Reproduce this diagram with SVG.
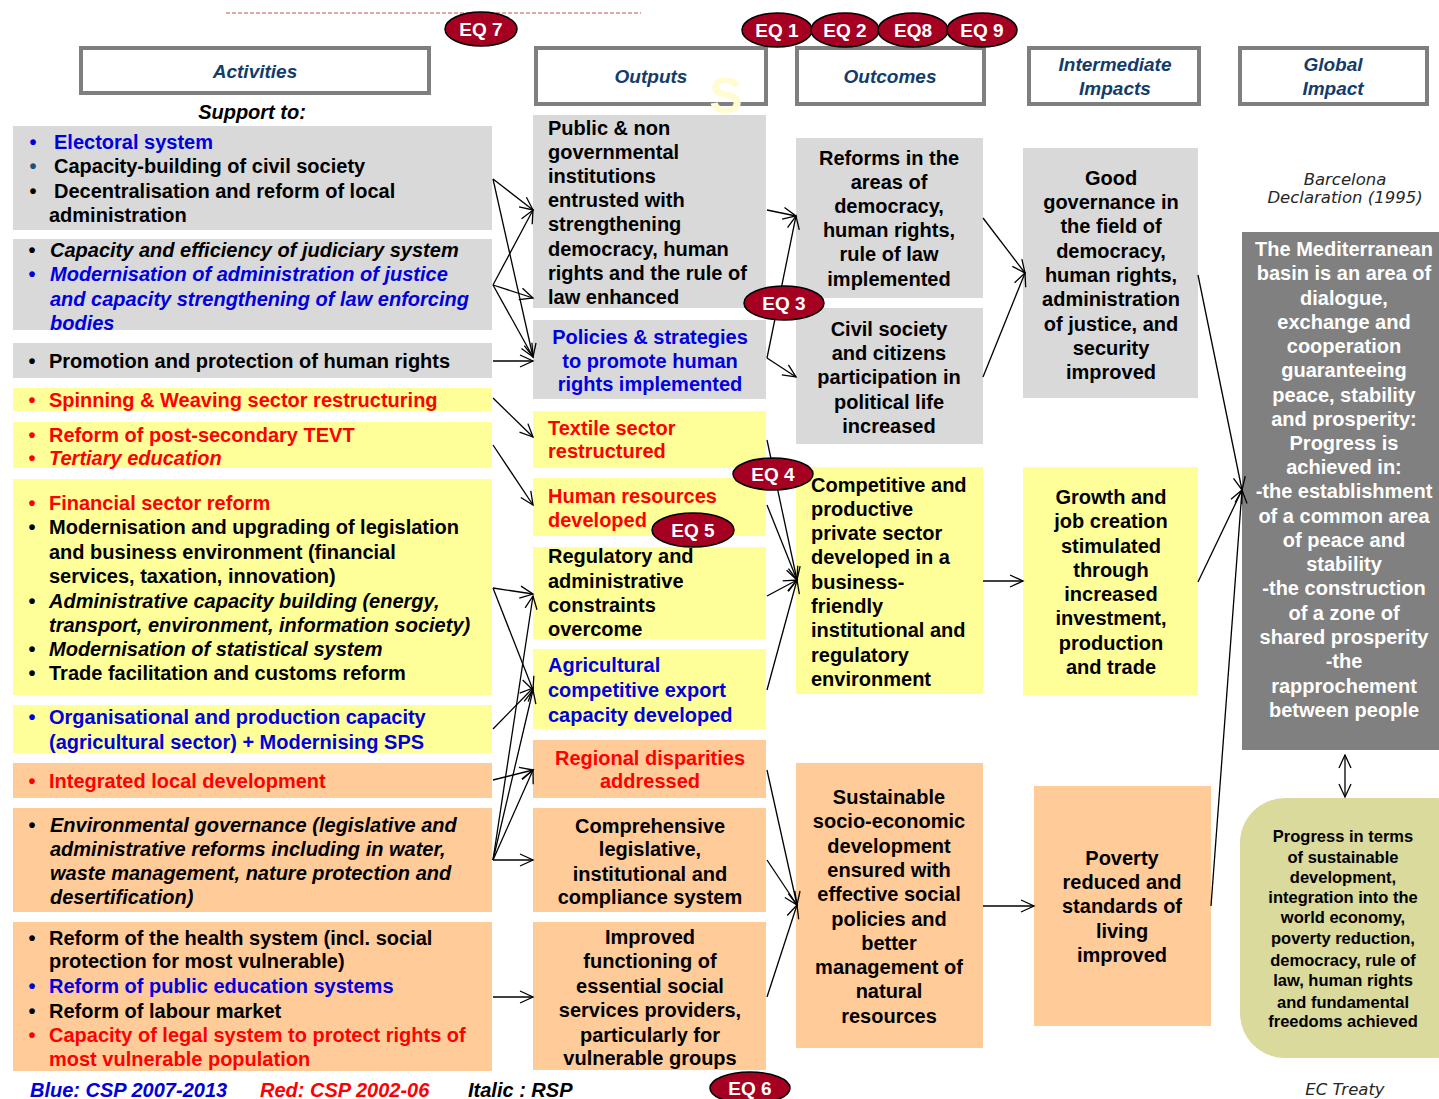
<svg xmlns="http://www.w3.org/2000/svg" width="1439" height="1099" viewBox="0 0 1439 1099">
  <defs>
    <style>
      .t { font-family: "Liberation Sans", Arial, sans-serif; font-weight: bold; font-size: 20px; fill: #000; }
      .c { text-anchor: middle; }
      .it { font-style: italic; }
      .blue { fill: #0000dd; }
      .red { fill: #ff0000; }
      .navy { fill: #1f4e79; }
      .hdr { font-family: "Liberation Sans", Arial, sans-serif; font-weight: bold; font-style: italic; font-size: 19px; fill: #133c6b; text-anchor: middle; }
      .hbox { fill: #fff; stroke: #7f7f7f; stroke-width: 4; }
      .gray { fill: #d9d9d9; }
      .yel { fill: #ffff99; }
      .pch { fill: #ffcc99; }
      .wt { fill: #fff; }
      .note { font-family: "DejaVu Sans", Verdana, sans-serif; font-style: italic; font-size: 16.5px; fill: #262626; text-anchor: middle; }
      .olive { font-family: "Liberation Sans", Arial, sans-serif; font-weight: bold; font-size: 16.5px; fill: #000; text-anchor: middle; }
      .eq ellipse { fill: #a50021; stroke: #000; stroke-width: 1.5; }
      .eq text { font-family: "Liberation Sans", Arial, sans-serif; font-weight: bold; font-size: 19px; fill: #fff; text-anchor: middle; }
      .cn line { stroke: #000; stroke-width: 1.3; marker-end: url(#ah); }
    </style>
    <marker id="ah" markerWidth="16" markerHeight="16" refX="14" refY="7" orient="auto" markerUnits="userSpaceOnUse">
      <path d="M1,1 L14,7 L1,13" fill="none" stroke="#000" stroke-width="1.3"/>
    </marker>
    <marker id="ahs" markerWidth="16" markerHeight="16" refX="1" refY="7" orient="auto" markerUnits="userSpaceOnUse">
      <path d="M14,1 L1,7 L14,13" fill="none" stroke="#000" stroke-width="1.3"/>
    </marker>
  </defs>

  <rect width="1439" height="1099" fill="#fff"/>

  <!-- dashed line over the top -->
  <line x1="226" y1="13" x2="641" y2="13" stroke="#c0504d" stroke-width="1.2" stroke-dasharray="4 2"/>

  <!-- column headers -->
  <g id="hdr-activities">
    <rect class="hbox" x="81" y="48" width="348" height="45"/>
    <text class="hdr" x="255" y="78">Activities</text>
  </g>
  <g id="hdr-outputs">
    <rect class="hbox" x="536" y="48" width="230" height="56"/>
    <text x="726" y="113" font-family="Liberation Sans, Arial, sans-serif" font-weight="bold" font-size="50" fill="#fffcd2" text-anchor="middle">S</text>
    <text class="hdr" x="651" y="83">Outputs</text>
  </g>
  <g id="hdr-outcomes">
    <rect class="hbox" x="797" y="48" width="187" height="56"/>
    <text class="hdr" x="890" y="83">Outcomes</text>
  </g>
  <g id="hdr-intermediate">
    <rect class="hbox" x="1029" y="48" width="170" height="56"/>
    <text class="hdr" x="1115" y="71">Intermediate</text>
    <text class="hdr" x="1115" y="95">Impacts</text>
  </g>
  <g id="hdr-global">
    <rect class="hbox" x="1240" y="48" width="187" height="56"/>
    <text class="hdr" x="1333" y="71">Global</text>
    <text class="hdr" x="1333" y="95">Impact</text>
  </g>

  <text class="t it c" x="252" y="119" font-size="19">Support to:</text>

  <!-- activities -->
  <g id="act-1">
    <rect class="gray" x="13" y="126" width="479" height="104"/>
    <text class="t blue c" x="33" y="149">•</text><text class="t blue" x="54" y="149">Electoral system</text>
    <text class="t navy c" x="33" y="173">•</text><text class="t" x="54" y="173">Capacity-building  of civil society</text>
    <text class="t c" x="33" y="198">•</text><text class="t" x="54" y="198">Decentralisation  and reform of local</text>
    <text class="t" x="49" y="222">administration</text>
  </g>
  <g id="act-2">
    <rect class="gray" x="13" y="239" width="479" height="91"/>
    <text class="t c" x="32" y="257">•</text><text class="t it" x="50" y="257">Capacity and efficiency  of judiciary system</text>
    <text class="t blue c" x="32" y="281">•</text><text class="t it blue" x="50" y="281">Modernisation  of administration  of justice</text>
    <text class="t it blue" x="50" y="306">and capacity  strengthening  of law enforcing</text>
    <text class="t it blue" x="50" y="330">bodies</text>
  </g>
  <g id="act-3">
    <rect class="gray" x="13" y="343" width="479" height="35"/>
    <text class="t c" x="32" y="368">•</text><text class="t" x="49" y="368">Promotion and protection of human rights</text>
  </g>
  <g id="act-4">
    <rect class="yel" x="13" y="388" width="479" height="23"/>
    <text class="t red c" x="32" y="407">•</text><text class="t red" x="49" y="407">Spinning &amp; Weaving sector  restructuring</text>
  </g>
  <g id="act-5">
    <rect class="yel" x="13" y="422" width="479" height="46"/>
    <text class="t red c" x="32" y="442">•</text><text class="t red" x="49" y="442">Reform of post-secondary  TEVT</text>
    <text class="t red c" x="32" y="465">•</text><text class="t it red" x="49" y="465">Tertiary education</text>
  </g>
  <g id="act-6">
    <rect class="yel" x="13" y="479" width="479" height="216"/>
    <text class="t red c" x="32" y="510">•</text><text class="t red" x="49" y="510">Financial sector  reform</text>
    <text class="t c" x="32" y="534">•</text><text class="t" x="49" y="534">Modernisation and upgrading of legislation</text>
    <text class="t" x="49" y="559">and business environment  (financial</text>
    <text class="t" x="49" y="583">services, taxation,  innovation)</text>
    <text class="t c" x="32" y="608">•</text><text class="t it" x="49" y="608">Administrative capacity  building (energy,</text>
    <text class="t it" x="49" y="632">transport,  environment,  information  society)</text>
    <text class="t c" x="32" y="656">•</text><text class="t it" x="49" y="656">Modernisation  of statistical  system</text>
    <text class="t c" x="32" y="680">•</text><text class="t" x="49" y="680">Trade facilitation  and customs  reform</text>
  </g>
  <g id="act-7">
    <rect class="yel" x="13" y="705" width="479" height="48"/>
    <text class="t blue c" x="32" y="724">•</text><text class="t blue" x="49" y="724">Organisational  and production  capacity</text>
    <text class="t blue" x="49" y="749">(agricultural  sector)  + Modernising  SPS</text>
  </g>
  <g id="act-8">
    <rect class="pch" x="13" y="763" width="479" height="35"/>
    <text class="t red c" x="32" y="788">•</text><text class="t red" x="49" y="788">Integrated  local development</text>
  </g>
  <g id="act-9">
    <rect class="pch" x="13" y="808" width="479" height="104"/>
    <text class="t c" x="32" y="832">•</text><text class="t it" x="50" y="832">Environmental governance  (legislative and</text>
    <text class="t it" x="50" y="856">administrative reforms  including in water,</text>
    <text class="t it" x="50" y="880">waste management,  nature protection  and</text>
    <text class="t it" x="50" y="904">desertification)</text>
  </g>
  <g id="act-10">
    <rect class="pch" x="13" y="922" width="479" height="149"/>
    <text class="t c" x="32" y="945">•</text><text class="t" x="49" y="945">Reform of the health  system  (incl. social</text>
    <text class="t" x="49" y="968">protection  for most vulnerable)</text>
    <text class="t blue c" x="32" y="993">•</text><text class="t blue" x="49" y="993">Reform of public education  systems</text>
    <text class="t c" x="32" y="1018">•</text><text class="t" x="49" y="1018">Reform of labour market</text>
    <text class="t red c" x="32" y="1042">•</text><text class="t red" x="49" y="1042">Capacity of legal system  to protect  rights of</text>
    <text class="t red" x="49" y="1066">most vulnerable population</text>
  </g>

  <!-- outputs -->
  <g id="out-1">
    <rect class="gray" x="533" y="115" width="233" height="193"/>
    <text class="t" x="548" y="135">Public &amp; non</text>
    <text class="t" x="548" y="159">governmental</text>
    <text class="t" x="548" y="183">institutions</text>
    <text class="t" x="548" y="207">entrusted  with</text>
    <text class="t" x="548" y="231">strengthening</text>
    <text class="t" x="548" y="256">democracy, human</text>
    <text class="t" x="548" y="280">rights and the rule of</text>
    <text class="t" x="548" y="304">law enhanced</text>
  </g>
  <g id="out-2">
    <rect class="gray" x="533" y="320" width="233" height="79"/>
    <text class="t c blue" x="650" y="344">Policies &amp; strategies</text>
    <text class="t c blue" x="650" y="368">to promote  human</text>
    <text class="t c blue" x="650" y="391">rights implemented</text>
  </g>
  <g id="out-3">
    <rect class="yel" x="533" y="411" width="233" height="57"/>
    <text class="t red" x="548" y="435">Textile sector</text>
    <text class="t red" x="548" y="458">restructured</text>
  </g>
  <g id="out-4">
    <rect class="yel" x="533" y="478" width="233" height="58"/>
    <text class="t red" x="548" y="503">Human resources</text>
    <text class="t red" x="548" y="527">developed</text>
  </g>
  <g id="out-5">
    <rect class="yel" x="533" y="547" width="233" height="92"/>
    <text class="t" x="548" y="563">Regulatory and</text>
    <text class="t" x="548" y="588">administrative</text>
    <text class="t" x="548" y="612">constraints</text>
    <text class="t" x="548" y="636">overcome</text>
  </g>
  <g id="out-6">
    <rect class="yel" x="533" y="649" width="233" height="80"/>
    <text class="t blue" x="548" y="672">Agricultural</text>
    <text class="t blue" x="548" y="697">competitive export</text>
    <text class="t blue" x="548" y="722">capacity  developed</text>
  </g>
  <g id="out-7">
    <rect class="pch" x="533" y="740" width="233" height="58"/>
    <text class="t c red" x="650" y="765">Regional  disparities</text>
    <text class="t c red" x="650" y="788">addressed</text>
  </g>
  <g id="out-8">
    <rect class="pch" x="533" y="808" width="233" height="104"/>
    <text class="t c" x="650" y="833">Comprehensive</text>
    <text class="t c" x="650" y="856">legislative,</text>
    <text class="t c" x="650" y="881">institutional and</text>
    <text class="t c" x="650" y="904">compliance system</text>
  </g>
  <g id="out-9">
    <rect class="pch" x="533" y="922" width="233" height="148"/>
    <text class="t c" x="650" y="944">Improved</text>
    <text class="t c" x="650" y="968">functioning of</text>
    <text class="t c" x="650" y="993">essential social</text>
    <text class="t c" x="650" y="1017">services providers,</text>
    <text class="t c" x="650" y="1042">particularly for</text>
    <text class="t c" x="650" y="1065">vulnerable groups</text>
  </g>

  <!-- outcomes -->
  <g id="oc-1">
    <rect class="gray" x="796" y="138" width="187" height="160"/>
    <text class="t c" x="889" y="165">Reforms  in the</text>
    <text class="t c" x="889" y="189">areas of</text>
    <text class="t c" x="889" y="213">democracy,</text>
    <text class="t c" x="889" y="237">human rights,</text>
    <text class="t c" x="889" y="261">rule of law</text>
    <text class="t c" x="889" y="286">implemented</text>
  </g>
  <g id="oc-2">
    <rect class="gray" x="796" y="308" width="187" height="136"/>
    <text class="t c" x="889" y="336">Civil society</text>
    <text class="t c" x="889" y="360">and citizens</text>
    <text class="t c" x="889" y="384">participation in</text>
    <text class="t c" x="889" y="409">political life</text>
    <text class="t c" x="889" y="433">increased</text>
  </g>
  <g id="oc-3">
    <rect class="yel" x="796" y="467" width="187" height="227"/>
    <text class="t" x="811" y="492">Competitive and</text>
    <text class="t" x="811" y="516">productive</text>
    <text class="t" x="811" y="540">private sector</text>
    <text class="t" x="811" y="564">developed in a</text>
    <text class="t" x="811" y="589">business-</text>
    <text class="t" x="811" y="613">friendly</text>
    <text class="t" x="811" y="637">institutional and</text>
    <text class="t" x="811" y="662">regulatory</text>
    <text class="t" x="811" y="686">environment</text>
  </g>
  <g id="oc-4">
    <rect class="pch" x="796" y="763" width="187" height="285"/>
    <text class="t c" x="889" y="804">Sustainable</text>
    <text class="t c" x="889" y="828">socio-economic</text>
    <text class="t c" x="889" y="853">development</text>
    <text class="t c" x="889" y="877">ensured with</text>
    <text class="t c" x="889" y="901">effective social</text>
    <text class="t c" x="889" y="926">policies and</text>
    <text class="t c" x="889" y="950">better</text>
    <text class="t c" x="889" y="974">management of</text>
    <text class="t c" x="889" y="998">natural</text>
    <text class="t c" x="889" y="1023">resources</text>
  </g>

  <!-- intermediate impacts -->
  <g id="ii-1">
    <rect class="gray" x="1023" y="148" width="175" height="250"/>
    <text class="t c" x="1111" y="185">Good</text>
    <text class="t c" x="1111" y="209">governance in</text>
    <text class="t c" x="1111" y="233">the field of</text>
    <text class="t c" x="1111" y="258">democracy,</text>
    <text class="t c" x="1111" y="282">human rights,</text>
    <text class="t c" x="1111" y="306">administration</text>
    <text class="t c" x="1111" y="331">of justice, and</text>
    <text class="t c" x="1111" y="355">security</text>
    <text class="t c" x="1111" y="379">improved</text>
  </g>
  <g id="ii-2">
    <rect class="yel" x="1023" y="467" width="175" height="228"/>
    <text class="t c" x="1111" y="504">Growth and</text>
    <text class="t c" x="1111" y="528">job creation</text>
    <text class="t c" x="1111" y="553">stimulated</text>
    <text class="t c" x="1111" y="577">through</text>
    <text class="t c" x="1111" y="601">increased</text>
    <text class="t c" x="1111" y="625">investment,</text>
    <text class="t c" x="1111" y="650">production</text>
    <text class="t c" x="1111" y="674">and trade</text>
  </g>
  <g id="ii-3">
    <rect class="pch" x="1034" y="786" width="177" height="240"/>
    <text class="t c" x="1122" y="865">Poverty</text>
    <text class="t c" x="1122" y="889">reduced and</text>
    <text class="t c" x="1122" y="913">standards  of</text>
    <text class="t c" x="1122" y="938">living</text>
    <text class="t c" x="1122" y="962">improved</text>
  </g>

  <!-- global impact -->
  <g id="global-note-top">
    <text class="note" x="1345" y="185">Barcelona</text>
    <text class="note" x="1345" y="203">Declaration (1995)</text>
  </g>
  <g id="global-impact">
    <rect x="1242" y="232" width="200" height="518" fill="#808080"/>
    <text class="t c wt" x="1344" y="256">The Mediterranean</text>
    <text class="t c wt" x="1344" y="280">basin is an area of</text>
    <text class="t c wt" x="1344" y="305">dialogue,</text>
    <text class="t c wt" x="1344" y="329">exchange and</text>
    <text class="t c wt" x="1344" y="353">cooperation</text>
    <text class="t c wt" x="1344" y="377">guaranteeing</text>
    <text class="t c wt" x="1344" y="402">peace, stability</text>
    <text class="t c wt" x="1344" y="426">and prosperity:</text>
    <text class="t c wt" x="1344" y="450">Progress  is</text>
    <text class="t c wt" x="1344" y="474">achieved in:</text>
    <text class="t c wt" x="1344" y="498">-the establishment</text>
    <text class="t c wt" x="1344" y="523">of a common area</text>
    <text class="t c wt" x="1344" y="547">of peace and</text>
    <text class="t c wt" x="1344" y="571">stability</text>
    <text class="t c wt" x="1344" y="595">-the construction</text>
    <text class="t c wt" x="1344" y="620">of a zone of</text>
    <text class="t c wt" x="1344" y="644">shared prosperity</text>
    <text class="t c wt" x="1344" y="668">-the</text>
    <text class="t c wt" x="1344" y="693">rapprochement</text>
    <text class="t c wt" x="1344" y="717">between  people</text>
  </g>
  <g id="global-progress">
    <rect x="1240" y="798" width="240" height="260" rx="45" ry="45" fill="#d9da9b"/>
    <text class="olive" x="1343" y="842">Progress in terms</text>
    <text class="olive" x="1343" y="863">of sustainable</text>
    <text class="olive" x="1343" y="883">development,</text>
    <text class="olive" x="1343" y="903">integration into the</text>
    <text class="olive" x="1343" y="923">world economy,</text>
    <text class="olive" x="1343" y="944">poverty reduction,</text>
    <text class="olive" x="1343" y="966">democracy, rule of</text>
    <text class="olive" x="1343" y="986">law, human rights</text>
    <text class="olive" x="1343" y="1008">and fundamental</text>
    <text class="olive" x="1343" y="1027">freedoms achieved</text>
  </g>
  <g id="global-note-bottom">
    <text class="note" x="1345" y="1095">EC Treaty</text>
  </g>

  <!-- legend -->
  <g id="legend">
    <text class="t it blue" x="30" y="1097" font-size="19.5">Blue: CSP 2007-2013</text>
    <text class="t it red" x="260" y="1097" font-size="19.5">Red: CSP 2002-06</text>
    <text class="t it" x="468" y="1097" font-size="19.5">Italic : RSP</text>
  </g>

  <!-- connectors -->
  <g id="connectors" class="cn">
    <line x1="493" y1="179" x2="533" y2="210"/>
    <line x1="493" y1="179" x2="533" y2="357"/>
    <line x1="493" y1="285" x2="533" y2="210"/>
    <line x1="493" y1="285" x2="533" y2="298"/>
    <line x1="493" y1="285" x2="533" y2="357"/>
    <line x1="493" y1="361" x2="533" y2="361"/>
    <line x1="493" y1="398" x2="533" y2="437"/>
    <line x1="493" y1="445" x2="533" y2="505"/>
    <line x1="493" y1="588" x2="533" y2="594"/>
    <line x1="493" y1="588" x2="533" y2="690"/>
    <line x1="493" y1="729" x2="533" y2="688"/>
    <line x1="493" y1="780" x2="533" y2="770"/>
    <line x1="493" y1="860" x2="533" y2="770"/>
    <line x1="493" y1="860" x2="533" y2="860"/>
    <line x1="493" y1="860" x2="533" y2="596"/>
    <line x1="493" y1="860" x2="533" y2="690"/>
    <line x1="493" y1="997" x2="533" y2="997"/>

    <line x1="767" y1="210" x2="796" y2="216"/>
    <line x1="767" y1="358" x2="796" y2="216"/>
    <line x1="767" y1="358" x2="796" y2="377"/>
    <line x1="767" y1="440" x2="797" y2="580"/>
    <line x1="767" y1="505" x2="797" y2="580"/>
    <line x1="767" y1="596" x2="797" y2="580"/>
    <line x1="767" y1="690" x2="797" y2="580"/>
    <line x1="767" y1="770" x2="797" y2="905"/>
    <line x1="767" y1="860" x2="797" y2="905"/>
    <line x1="767" y1="997" x2="797" y2="905"/>

    <line x1="983" y1="218" x2="1025" y2="273"/>
    <line x1="983" y1="377" x2="1025" y2="273"/>
    <line x1="983" y1="581" x2="1023" y2="581"/>
    <line x1="983" y1="906" x2="1034" y2="906"/>

    <line x1="1198" y1="275" x2="1242" y2="490"/>
    <line x1="1198" y1="582" x2="1242" y2="490"/>
    <line x1="1211" y1="906" x2="1242" y2="490"/>

    <line x1="1345" y1="755" x2="1345" y2="797" marker-start="url(#ahs)"/>
  </g>

  <!-- evaluation question badges -->
  <g id="eq-7" class="eq"><ellipse cx="481" cy="29" rx="36" ry="17"/><text x="481" y="36">EQ 7</text></g>
  <g id="eq-1" class="eq"><ellipse cx="777" cy="30" rx="35" ry="17"/><text x="777" y="37">EQ 1</text></g>
  <g id="eq-2" class="eq"><ellipse cx="845" cy="30" rx="34" ry="17"/><text x="845" y="37">EQ 2</text></g>
  <g id="eq-8" class="eq"><ellipse cx="913" cy="30" rx="35" ry="17"/><text x="913" y="37">EQ8</text></g>
  <g id="eq-9" class="eq"><ellipse cx="982" cy="30" rx="35" ry="17"/><text x="982" y="37">EQ 9</text></g>
  <g id="eq-3" class="eq"><ellipse cx="784" cy="303" rx="40" ry="17"/><text x="784" y="310">EQ 3</text></g>
  <g id="eq-4" class="eq"><ellipse cx="773" cy="474" rx="40" ry="16"/><text x="773" y="481">EQ 4</text></g>
  <g id="eq-5" class="eq"><ellipse cx="693" cy="530" rx="41" ry="17"/><text x="693" y="537">EQ 5</text></g>
  <g id="eq-6" class="eq"><ellipse cx="750" cy="1088" rx="40" ry="16"/><text x="750" y="1095">EQ 6</text></g>
</svg>
